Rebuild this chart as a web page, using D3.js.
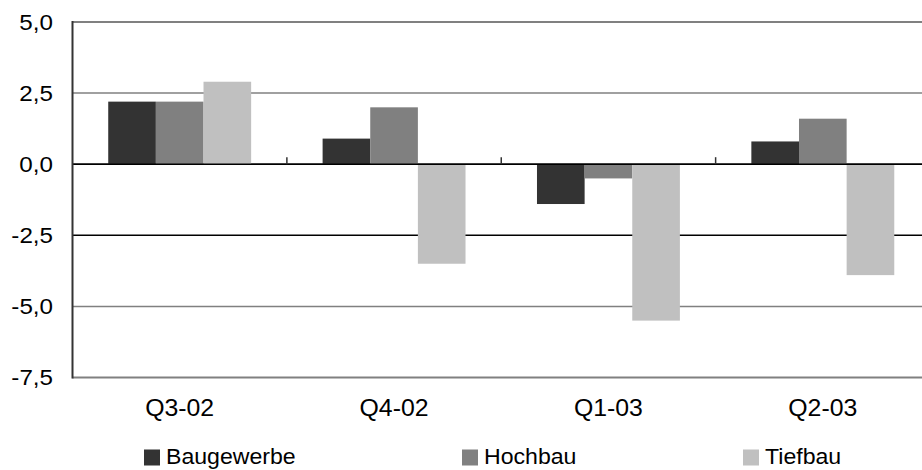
<!DOCTYPE html>
<html><head><meta charset="utf-8">
<script src="https://cdn.jsdelivr.net/npm/d3@7"></script>
<style>body{margin:0;background:#fff}svg{display:block}text{font-family:"Liberation Sans",Arial,sans-serif;fill:#000}</style>
</head><body><svg id="c" width="922" height="470"></svg>
<script>
const categories = ["Q3-02","Q4-02","Q1-03","Q2-03"];
const seriesNames = ["Baugewerbe","Hochbau","Tiefbau"];
const baugewerbe = [2.2, 0.9, -1.4, 0.8];
const hochbau = [2.2, 2.0, -0.5, 1.6];
const tiefbau = [2.9, -3.5, -5.5, -3.9];
const yTicks = [5.0, 2.5, 0.0, -2.5, -5.0, -7.5];
const colors = ["#333333","#808080","#c0c0c0"];
const series = [baugewerbe, hochbau, tiefbau];

(function () {
const svg = d3.select("#c");
const mLeft = 72.5, mRight = 930, mTop = 22, mBottom = 377.5;
const y = d3.scaleLinear().domain([-7.5, 5]).range([mBottom, mTop]);
const x = d3.scaleBand().domain(categories).range([mLeft, mRight]).padding(0);
const bw = x.bandwidth() / 4.5;
const xs = d3.scaleBand().domain(seriesNames).range([0, bw * 3]);
const fmt = v => d3.format(".1f")(v).replace(".", ",").replace("\u2212","-");

const gridColor = {"5":"#808080","2.5":"#808080","0":"#000","-2.5":"#000","-5":"#808080","-7.5":"#808080"};
svg.append("g").selectAll("line").data(yTicks).join("line")
  .attr("x1", mLeft).attr("x2", 922)
  .attr("y1", d => y(d)).attr("y2", d => y(d))
  .attr("stroke", d => gridColor[String(d)])
  .attr("stroke-width", d => (d === 5 || d === -7.5) ? 2 : 1.5);

const g = svg.append("g");
series.forEach((vals, si) => {
  g.selectAll(null).data(vals).join("rect")
    .attr("x", (d, i) => x(categories[i]) + (x.bandwidth() - bw * 3) / 2 + xs(seriesNames[si]))
    .attr("width", xs.bandwidth())
    .attr("y", d => y(Math.max(0, d)))
    .attr("height", d => Math.abs(y(d) - y(0)))
    .attr("fill", colors[si]);
});

svg.append("line").attr("x1", mLeft).attr("x2", 922).attr("y1", y(0)).attr("y2", y(0))
  .attr("stroke", "#000").attr("stroke-width", 1.5);
svg.append("g").selectAll("line").data(categories.slice(1)).join("line")
  .attr("x1", d => x(d)).attr("x2", d => x(d))
  .attr("y1", y(0) - 7).attr("y2", y(0))
  .attr("stroke", "#333").attr("stroke-width", 1.5);

svg.append("line").attr("x1", mLeft).attr("x2", mLeft).attr("y1", mTop - 1).attr("y2", mBottom + 1)
  .attr("stroke", "#333").attr("stroke-width", 2);

svg.append("g").selectAll("text").data(yTicks).join("text")
  .attr("transform", d => `translate(53,${y(d)}) scale(1.1,1)`)
  .attr("dy", "0.35em")
  .attr("text-anchor", "end").attr("font-size", 22)
  .text(d => fmt(d));

svg.append("g").selectAll("text").data(categories).join("text")
  .attr("transform", d => `translate(${x(d) + x.bandwidth() / 2},416) scale(1.08,1)`)
  .attr("text-anchor", "middle").attr("font-size", 23)
  .text(d => d);

const legX = [144, 462, 743];
const lg = svg.append("g").selectAll("g").data(seriesNames).join("g")
  .attr("transform", (d, i) => `translate(${legX[i]},0)`);
lg.append("rect").attr("x", 0).attr("y", 449.5).attr("width", 16).attr("height", 16)
  .attr("fill", (d, i) => colors[i]);
lg.append("text").attr("transform", "translate(22,464) scale(1.05,1)").attr("font-size", 22).text(d => d);
})();
</script></body></html>
